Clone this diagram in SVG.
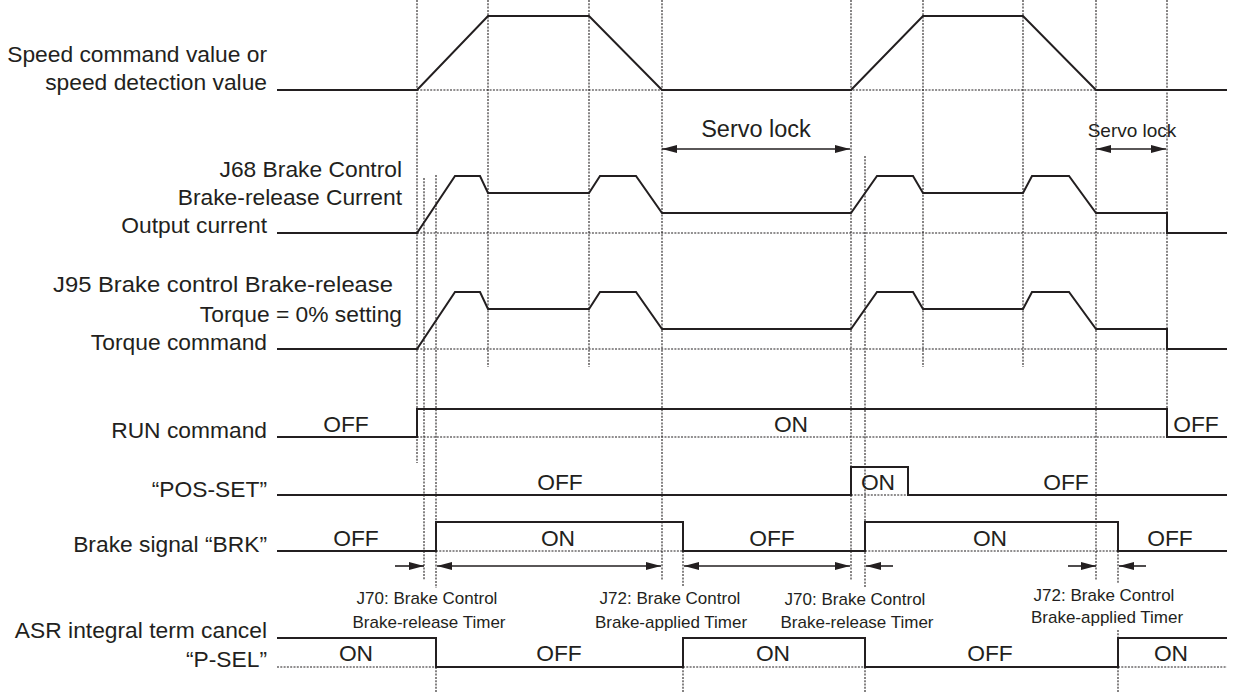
<svg xmlns="http://www.w3.org/2000/svg" width="1245" height="695" viewBox="0 0 1245 695">
<style>
.bg{fill:#ffffff}
.sig{fill:none;stroke:#231f20;stroke-width:2;stroke-linejoin:miter}
.dot{fill:none;stroke:#231f20;stroke-width:1.1;stroke-dasharray:2 1.3}
.arr{fill:none;stroke:#231f20;stroke-width:1.6}
.lbl{font-family:"Liberation Sans",Arial,sans-serif;font-size:22.8px;fill:#231f20;text-anchor:end}
.st{font-family:"Liberation Sans",Arial,sans-serif;font-size:22.8px;fill:#231f20;text-anchor:middle}
.sm{font-family:"Liberation Sans",Arial,sans-serif;font-size:17px;fill:#231f20;text-anchor:middle}
</style>
<defs>
<marker id="ah" viewBox="0 0 15 8" refX="15" refY="4" markerWidth="15" markerHeight="8" markerUnits="userSpaceOnUse" orient="auto-start-reverse">
<path d="M0,0 L15,4 L0,8 z" fill="#231f20"/>
</marker>
</defs>
<rect class="bg" x="0" y="0" width="1245" height="695"/>

<g id="guides">
<path class="dot" d="M417,0 V463 M424,178 V580 M436,175 V588 M436,667 V693 M488,0 V367 M589,0 V367 M662,0 V580 M683,551 V587 M683,667 V693 M851,0 V580 M865,156 V588 M865,667 V693 M923,0 V367 M1023,0 V367 M1096,0 V580 M1118,551 V583 M1118,630 V638 M1118,667 V693 M1167,0 V409"/>
<path class="dot" d="M417,90 H1096 M417,233 H1167 M417,349 H1167 M417,437 H1167 M851,495 H908 M436,551 H683 M865,551 H1118 M277,667 H436 M683,667 H865 M1118,667 H1227"/>
</g>

<g id="speed">
<text class="lbl" x="267" y="62">Speed command value or</text>
<text class="lbl" x="267" y="90">speed detection value</text>
<polyline class="sig" points="277,90 417,90 488,16 589,16 662,90 851,90 923,16 1023,16 1096,90 1227,90"/>
</g>

<g id="servo-lock-1">
<text class="st" style="font-size:23.5px" x="756" y="137">Servo lock</text>
</g>
<g id="servo-lock-2">
<text class="st" style="font-size:19px" x="1132" y="137">Servo lock</text>
</g>

<g id="output-current">
<text class="lbl" x="402" y="177">J68 Brake Control</text>
<text class="lbl" x="402" y="205">Brake-release Current</text>
<text class="lbl" x="267" y="233">Output current</text>
<polyline class="sig" points="277,233 417,233 455,176 480,176 488,193 589,193 600,176 636,176 662,213 851,213 877,176 913,176 923,193 1023,193 1032,176 1069,176 1096,213 1167,213 1167,233 1227,233"/>
</g>

<g id="torque-command">
<text class="lbl" x="393" y="292" textLength="340" lengthAdjust="spacingAndGlyphs">J95 Brake control Brake-release</text>
<text class="lbl" x="402" y="322">Torque = 0% setting</text>
<text class="lbl" x="267" y="350">Torque command</text>
<polyline class="sig" points="277,349 417,349 455,292 480,292 488,309 589,309 600,292 636,292 662,329 851,329 877,292 913,292 923,309 1023,309 1032,292 1069,292 1096,329 1167,329 1167,349 1227,349"/>
</g>

<g id="run-command">
<text class="lbl" x="267" y="438">RUN command</text>
<polyline class="sig" points="277,437 417,437 417,409 1167,409 1167,437 1227,437"/>
<text class="st" x="346" y="432">OFF</text>
<text class="st" x="791" y="432">ON</text>
<text class="st" x="1196" y="432">OFF</text>
</g>

<g id="pos-set">
<text class="lbl" x="267" y="497">“POS-SET”</text>
<polyline class="sig" points="277,495 851,495 851,467 908,467 908,495 1227,495"/>
<text class="st" x="560" y="490">OFF</text>
<text class="st" x="878" y="490">ON</text>
<text class="st" x="1066" y="490">OFF</text>
</g>

<g id="brake-signal">
<text class="lbl" x="267" y="552">Brake signal “BRK”</text>
<polyline class="sig" points="277,551 436,551 436,522 683,522 683,551 865,551 865,522 1118,522 1118,551 1227,551"/>
<text class="st" x="356" y="546">OFF</text>
<text class="st" x="558" y="546">ON</text>
<text class="st" x="772" y="546">OFF</text>
<text class="st" x="990" y="546">ON</text>
<text class="st" x="1170" y="546">OFF</text>
</g>

<g id="timers">
<text class="sm" x="427" y="604">J70: Brake Control</text>
<text class="sm" x="429" y="628">Brake-release Timer</text>
<text class="sm" x="670" y="604">J72: Brake Control</text>
<text class="sm" x="671" y="628">Brake-applied Timer</text>
<text class="sm" x="855" y="605">J70: Brake Control</text>
<text class="sm" x="857" y="628">Brake-release Timer</text>
<text class="sm" x="1104" y="601">J72: Brake Control</text>
<text class="sm" x="1107" y="623">Brake-applied Timer</text>
</g>

<g id="p-sel">
<text class="lbl" x="267" y="638">ASR integral term cancel</text>
<text class="lbl" x="267" y="667">“P-SEL”</text>
<polyline class="sig" points="277,638 436,638 436,667 683,667 683,638 865,638 865,667 1118,667 1118,638 1227,638"/>
<text class="st" x="356" y="661">ON</text>
<text class="st" x="559" y="661">OFF</text>
<text class="st" x="773" y="661">ON</text>
<text class="st" x="990" y="661">OFF</text>
<text class="st" x="1171" y="661">ON</text>
</g>

<g id="connectors">
<line class="arr" x1="662" y1="149" x2="850" y2="149" marker-start="url(#ah)" marker-end="url(#ah)"/>
<line class="arr" x1="1096" y1="149" x2="1166" y2="149" marker-start="url(#ah)" marker-end="url(#ah)"/>
<line class="arr" x1="395" y1="566" x2="424" y2="566" marker-end="url(#ah)"/>
<line class="arr" x1="437" y1="566" x2="661" y2="566" marker-start="url(#ah)" marker-end="url(#ah)"/>
<line class="arr" x1="684" y1="566" x2="850" y2="566" marker-start="url(#ah)" marker-end="url(#ah)"/>
<line class="arr" x1="893" y1="566" x2="866" y2="566" marker-end="url(#ah)"/>
<line class="arr" x1="1068" y1="566" x2="1096" y2="566" marker-end="url(#ah)"/>
<line class="arr" x1="1146" y1="566" x2="1119" y2="566" marker-end="url(#ah)"/>
</g>
</svg>
